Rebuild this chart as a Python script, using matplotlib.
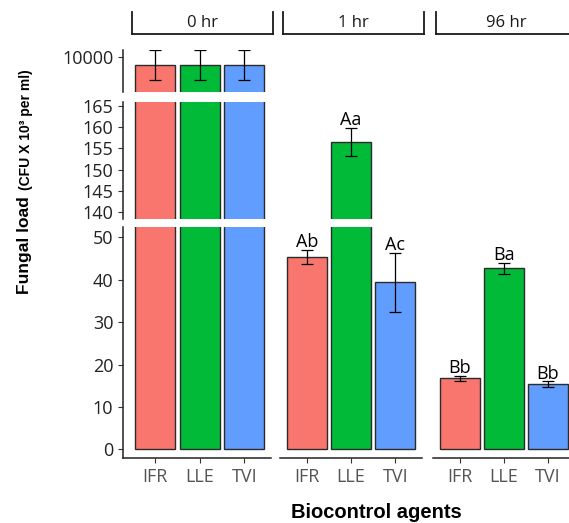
import numpy as np
import matplotlib
matplotlib.use('Agg')
import matplotlib.pyplot as plt

# data
agents = ['IFR', 'LLE', 'TVI']
times = ['0 hr', '1 hr', '96 hr']
load_0hr = [9800, 9800, 9800]
err_0hr = [350, 350, 350]
load_1hr = [45.4, 156.5, 39.4]
err_1hr = [1.7, 3.3, 7.0]
load_96hr = [16.7, 42.7, 15.3]
err_96hr = [0.7, 1.3, 0.7]
letters_1hr = ['Ab', 'Aa', 'Ac']
letters_96hr = ['Bb', 'Ba', 'Bb']

loads = [load_0hr, load_1hr, load_96hr]
errs = [err_0hr, err_1hr, err_96hr]
letters = [['', '', ''], letters_1hr, letters_96hr]

colors = ['#F8766D', '#00BA38', '#619CFF']

# broken y axis: (ylim, ticks) from top segment to bottom segment
segments = [((9157, 10161), [10000]),
            ((138.43, 165.94), [140, 145, 150, 155, 160, 165]),
            ((-2.05, 52.5), [0, 10, 20, 30, 40, 50])]
seg_px = [(50, 91.7), (101.7, 219), (226.7, 458)]
panel_px = [(123.3, 271.0, -0.716), (280.1, 421.9, -0.6), (433.2, 574.5, -0.6)]
strip_px = [(131.7, 272.7), (283.3, 424.0), (435.7, 577.0)]

W, H = 569, 523
plt.rcParams['font.family'] = ['Open Sans', 'DejaVu Sans']


def box(x0, y0, x1, y1):
    return [x0 / W, 1 - y1 / H, (x1 - x0) / W, (y1 - y0) / H]


fig = plt.figure(figsize=(W / 100, H / 100), dpi=100)

x = np.arange(len(agents))
for p in range(3):
    px0, px1, xl = panel_px[p]
    for s in range(3):
        (ylo, yhi), ticks = segments[s]
        sy0, sy1 = seg_px[s]
        ax = fig.add_axes(box(px0, sy0, px1, sy1))
        ax.bar(x, loads[p], width=0.9, color=colors, edgecolor='#2b2b2b', linewidth=1.0)
        ax.errorbar(x, loads[p], yerr=errs[p], fmt='none', ecolor='black',
                    elinewidth=0.9, capsize=4, capthick=0.9)
        for i in range(3):
            top = loads[p][i] + errs[p][i]
            if letters[p][i] and ylo <= top <= yhi:
                ax.annotate(letters[p][i], (x[i], top), xytext=(0, 2),
                            textcoords='offset points', ha='center', va='baseline',
                            fontsize=13, color='black')
        ax.set_xlim(xl, 2.6)
        ax.set_ylim(ylo, yhi)
        ax.patch.set_alpha(0)
        for side in ['top', 'right']:
            ax.spines[side].set_visible(False)
        ax.spines['left'].set_visible(p == 0)
        ax.spines['bottom'].set_visible(s == 2)
        for side in ['left', 'bottom']:
            ax.spines[side].set_linewidth(1.1)
            ax.spines[side].set_color('#222222')
        if p == 0:
            ax.set_yticks(ticks)
            ax.tick_params(axis='y', length=3.6, width=0.8, color='#333333',
                           pad=3.6, labelsize=13, labelcolor='#222222')
        else:
            ax.set_yticks([])
        if s == 2:
            ax.set_xticks(x)
            ax.set_xticklabels(agents)
            ax.tick_params(axis='x', length=3.6, width=0.8, color='#333333',
                           pad=3.6, labelsize=13, labelcolor='#555555')
        else:
            ax.set_xticks([])

# facet strips drawn as brackets
for p in range(3):
    sx0, sx1 = strip_px[p]
    sax = fig.add_axes(box(sx0, 11.7, sx1, 34.3))
    sax.set_xticks([])
    sax.set_yticks([])
    sax.patch.set_alpha(0)
    sax.spines['top'].set_visible(False)
    for side in ['left', 'right', 'bottom']:
        sax.spines[side].set_linewidth(1.3)
        sax.spines[side].set_color('#1a1a1a')
    sax.text(0.5, 0.52, times[p], transform=sax.transAxes, ha='center', va='center',
             fontsize=12, color='#1a1a1a')

# axis titles
fig.text(25 / W, 1 - 294 / H, 'Fungal load', rotation=90, ha='center', va='bottom',
         fontsize=12.5, fontweight='bold', family='Liberation Sans')
fig.text(26 / W, 1 - 190 / H, '(CFU X 10\u00b3 per ml)', rotation=90, ha='center', va='bottom',
         fontsize=10, fontweight='bold', family='Liberation Sans')
fig.text(376 / W, 5 / H, 'Biocontrol agents', ha='center', va='baseline',
         fontsize=14.5, fontweight='bold', family='Liberation Sans')

fig.savefig('out.png', dpi=100)
